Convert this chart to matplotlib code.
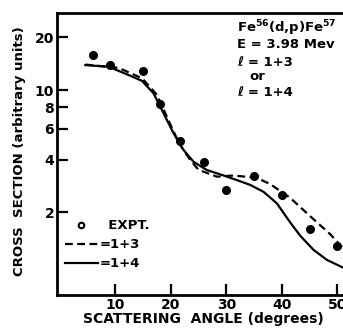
import numpy as np
import matplotlib
matplotlib.use("Agg")
import matplotlib.pyplot as plt
from matplotlib.lines import Line2D

# experimental points
expt_angle = [6, 9, 15, 18, 21.7, 26, 30, 35, 40, 45, 50]
expt_xsec = [15.8, 14.0, 12.8, 8.3, 5.15, 3.9, 2.68, 3.23, 2.53, 1.61, 1.28]

# l = 1+4 (solid)
l14_angle = [4.6, 8.8, 12.4, 14.8, 16.9, 18.7, 20.5, 22.3, 24.1, 26.5, 29.5,
             32, 34.3, 36.7, 39.1, 41.5, 43.3, 45.7, 48.1, 51.5]
l14_xsec = [13.9, 13.6, 12.2, 11.3, 9.57, 7.36, 5.66, 4.54, 3.89, 3.49, 3.25,
            3.05, 2.87, 2.62, 2.25, 1.75, 1.47, 1.22, 1.07, 0.95]

# l = 1+3 (dashed)
l13_angle = [4.6, 10.6, 14.8, 17.5, 19.5, 21.5, 23.5, 25, 28.3, 31.3, 35.5,
             37.9, 41.5, 45.1, 48.7, 51.5]
l13_xsec = [14.0, 13.4, 11.7, 9.4, 6.8, 4.95, 3.98, 3.5, 3.2, 3.25, 3.15,
            2.9, 2.42, 1.9, 1.5, 1.2]

x_ticks = [10, 20, 30, 40, 50]
y_ticks = [2, 4, 6, 8, 10, 20]

W, H = 343, 329
fig = plt.figure(figsize=(W / 100, H / 100), dpi=100)
ax = fig.add_axes([57 / W, 34 / H, 336 / W, 282 / H])

ax.plot(l14_angle, l14_xsec, color="black", lw=1.6)
ax.plot(l13_angle, l13_xsec, color="black", lw=1.6, linestyle=(0, (3.5, 2)))
ax.plot(expt_angle, expt_xsec, "o", color="black", markersize=5.5)

ax.set_yscale("log")
ax.set_xlim(-0.5, 60)
ax.set_ylim(0.674, 27.6)
ax.set_xticks(x_ticks)
ax.set_xticklabels([str(t) for t in x_ticks], fontweight="bold", fontsize=10)
ax.set_yticks(y_ticks)
ax.set_yticklabels([str(t) for t in y_ticks], fontweight="bold", fontsize=10)
ax.yaxis.set_minor_locator(matplotlib.ticker.NullLocator())
ax.tick_params(direction="in", length=8, width=1.6, pad=2)
for s in ["left", "bottom", "top"]:
    ax.spines[s].set_linewidth(2)
ax.spines["right"].set_visible(False)

fig.text(20 / W, 1 - 151 / H, "CROSS  SECTION (arbitrary units)", rotation=90,
         ha="center", va="center", fontsize=9.5, fontweight="bold")
fig.text(203 / W, 1 - 319 / H, "SCATTERING  ANGLE (degrees)",
         ha="center", va="center", fontsize=10, fontweight="bold")

notes = [
    (237, 28, r"Fe$^{\bf 56}$(d,p)Fe$^{\bf 57}$"),
    (237, 44, "E = 3.98 Mev"),
    (237, 62, "ℓ = 1+3"),
    (249, 76, "or"),
    (237, 93, "ℓ = 1+4"),
]
for x, y, t in notes:
    fig.text(x / W, 1 - y / H, t, ha="left", va="center", fontsize=9.5,
             fontweight="bold")

handles = [
    Line2D([], [], marker="o", markersize=4, markerfacecolor="white",
           markeredgecolor="black", markeredgewidth=1.5, linestyle="none"),
    Line2D([], [], color="black", lw=1.6, linestyle=(0, (3.5, 2))),
    Line2D([], [], color="black", lw=1.6),
]
labels = ["  EXPT.", "=1+3", "=1+4"]
leg = ax.legend(handles, labels, loc="lower left", bbox_to_anchor=(0.0, 0.06),
                frameon=False, handlelength=2.5, handletextpad=0.1,
                labelspacing=0.45, borderaxespad=0.2,
                prop={"weight": "bold", "size": 9.5})

fig.savefig("out.png", dpi=100)
